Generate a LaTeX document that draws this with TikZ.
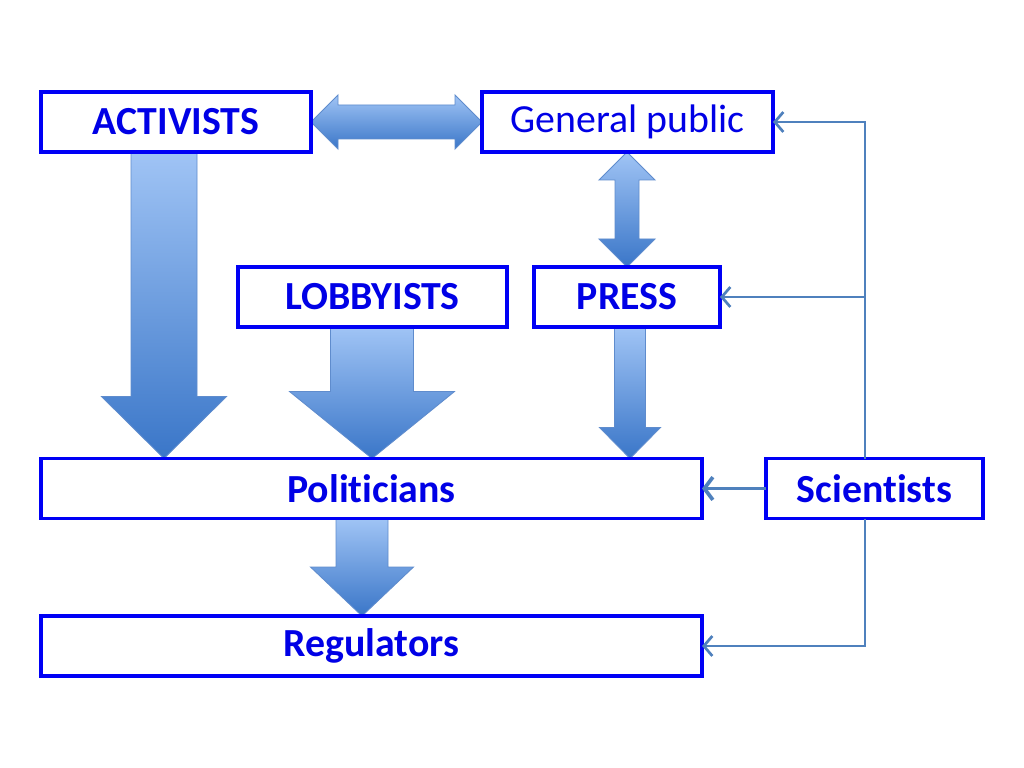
\documentclass[tikz,border=0pt]{standalone}
\usepackage{fontspec}
\setmainfont{Carlito}[RawFeature={-liga;-clig;-dlig}]
\usetikzlibrary{arrows.meta,calc,backgrounds}
\definecolor{boxblue}{RGB}{0,0,245}
\definecolor{txtblue}{RGB}{0,0,230}
\definecolor{linec}{RGB}{79,129,189}
\definecolor{atop}{RGB}{160,196,245}
\definecolor{abot}{RGB}{58,118,200}
\definecolor{aedge}{RGB}{95,140,205}
\def\pxu{0.703125pt}
% #1 centre-x coordinate, #2 shaft half width, #3 head half width, #4 head length, #5 from node, #6 to node
\newcommand\blockdown[6]{%
  \path[blockarrow] let \p0=(#1), \p1=(#5.south), \p2=(#6.north) in
    (\x0-#2*\pxu,\y1) -- (\x0+#2*\pxu,\y1) -- (\x0+#2*\pxu,\y2+#4*\pxu)
    -- (\x0+#3*\pxu,\y2+#4*\pxu) -- (\x0,\y2) -- (\x0-#3*\pxu,\y2+#4*\pxu)
    -- (\x0-#2*\pxu,\y2+#4*\pxu) -- cycle;}
\begin{document}
\begin{tikzpicture}[x=0.703125pt,y=-0.703125pt,
  box/.style={draw=boxblue,line width=2.8pt,fill=white,text=txtblue,
    font=\fontsize{28}{32}\selectfont\bfseries,inner sep=0pt,outer sep=0pt,
    minimum height=60*\pxu},
  thinline/.style={draw=linec,line width=1.9pt,-{Straight Barb[length=6pt,width=14pt]}},
  blockarrow/.style={top color=atop,bottom color=abot,draw=aedge,line width=0.6pt}]
\useasboundingbox (0,0) rectangle (1024,768);

\node[box,minimum width=270*\pxu] (act) at (176,122) {ACTIVISTS};
\node[box,minimum width=291*\pxu,font=\fontsize{28}{32}\selectfont] (gp) at (627.5,122) {General public};
\node[box,minimum width=269*\pxu] (lob) at (372.5,297) {LOBBYISTS};
\node[box,minimum width=186*\pxu] (press) at (627,297) {PRESS};
\node[box,minimum width=661*\pxu] (pol) at (371.5,488.5) {Polit\kern0pt icians};
\node[box,minimum width=217*\pxu] (sci) at (874.5,488.5) {Scient\kern0pt ists};
\node[box,minimum width=661*\pxu] (reg) at (371.5,646) {Regulators};

\coordinate (j1) at (865,122);
\coordinate (j2) at (865,297);
\coordinate (j3) at (865,646);
\coordinate (ax1) at (164,0);
\coordinate (ax2) at (372,0);
\coordinate (ax3) at (630,0);
\coordinate (ax4) at (362,0);

\begin{scope}[on background layer]
  \fill[white] (0,0) rectangle (1024,768);
  % horizontal double block arrow
  \path[blockarrow] let \p1=(act.east), \p2=(gp.west) in
    (\x1,\y1) -- (\x1+27*\pxu,\y1+27*\pxu) -- (\x1+27*\pxu,\y1+17*\pxu)
    -- (\x2-27*\pxu,\y1+17*\pxu) -- (\x2-27*\pxu,\y1+27*\pxu) -- (\x2,\y1)
    -- (\x2-27*\pxu,\y1-27*\pxu) -- (\x2-27*\pxu,\y1-17*\pxu)
    -- (\x1+27*\pxu,\y1-17*\pxu) -- (\x1+27*\pxu,\y1-27*\pxu) -- cycle;
  % vertical double block arrow
  \path[blockarrow] let \p1=(gp.south), \p2=(press.north) in
    (\x2,\y1) -- (\x2+28*\pxu,\y1-28*\pxu) -- (\x2+12*\pxu,\y1-28*\pxu)
    -- (\x2+12*\pxu,\y2+28*\pxu) -- (\x2+28*\pxu,\y2+28*\pxu) -- (\x2,\y2)
    -- (\x2-28*\pxu,\y2+28*\pxu) -- (\x2-12*\pxu,\y2+28*\pxu)
    -- (\x2-12*\pxu,\y1-28*\pxu) -- (\x2-28*\pxu,\y1-28*\pxu) -- cycle;
  \blockdown{ax1}{33}{62.5}{62}{act}{pol}
  \blockdown{ax2}{41.5}{82.5}{67}{lob}{pol}
  \blockdown{ax3}{15.5}{30.5}{31}{press}{pol}
  \blockdown{ax4}{26}{51.5}{49}{pol}{reg}
\end{scope}

\draw[thinline] (sci.north -| j1) -- (j1) -- (gp.east);
\draw[thinline] (j2) -- (press.east);
\draw[thinline] (sci.south -| j3) -- (j3) -- (reg.east);
\draw[thinline,line width=2.6pt,-{Straight Barb[length=6pt,width=16pt]}] (sci.west) -- (pol.east);
\end{tikzpicture}
\end{document}
